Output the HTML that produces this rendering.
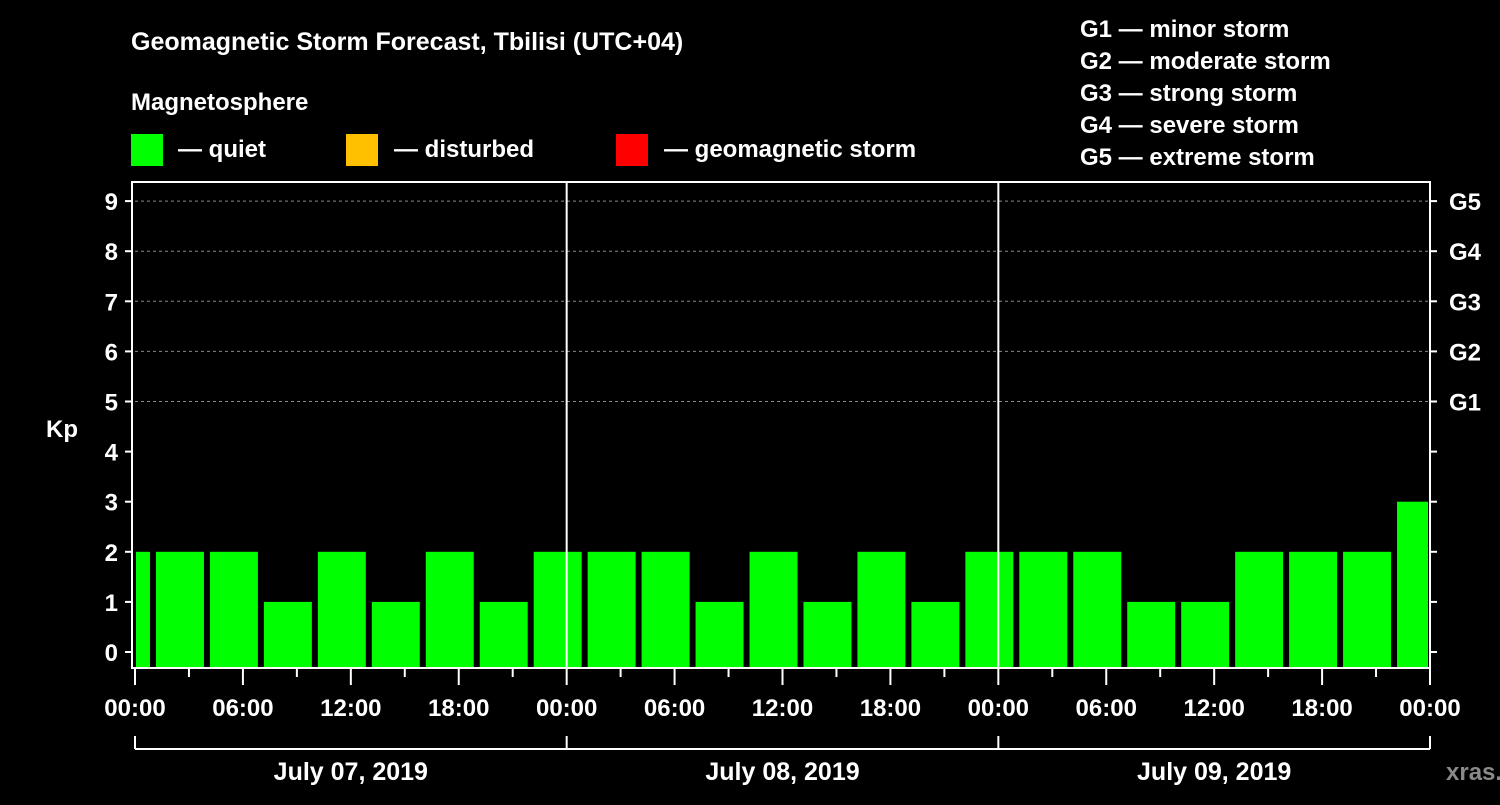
<!DOCTYPE html>
<html><head><meta charset="utf-8"><style>
body{margin:0;background:#000;}
svg text{font-family:"Liberation Sans",Arial,sans-serif;font-weight:bold;fill:#fff;}
</style></head><body>
<svg width="1500" height="800" viewBox="0 0 1500 800">
<rect width="1500" height="800" fill="#000"/>
<text x="131" y="50" font-size="25">Geomagnetic Storm Forecast, Tbilisi (UTC+04)</text>
<text x="131" y="110" font-size="24">Magnetosphere</text>
<g><rect x="131" y="134" width="32" height="32" fill="#00ff00"/><text x="178" y="157" font-size="24">— quiet</text></g>
<g><rect x="346" y="134" width="32" height="32" fill="#ffc000"/><text x="394" y="157" font-size="24">— disturbed</text></g>
<g><rect x="616" y="134" width="32" height="32" fill="#ff0000"/><text x="664" y="157" font-size="24">— geomagnetic storm</text></g>
<g font-size="24">
<text x="1080" y="37">G1 — minor storm</text>
<text x="1080" y="69">G2 — moderate storm</text>
<text x="1080" y="101">G3 — strong storm</text>
<text x="1080" y="133">G4 — severe storm</text>
<text x="1080" y="165">G5 — extreme storm</text>
</g>
<g id="plot"></g>
<text x="62" y="437" font-size="24" text-anchor="middle">Kp</text>
<text x="1446" y="780" font-size="24" fill="#888" style="fill:#8a8a8a">xras.ru</text>
</svg>
<script>
const values=[2,2,2,1,2,1,2,1,2,2,2,1,2,1,2,1,2,2,2,1,1,2,2,2,3];
const yTicks=[0,1,2,3,4,5,6,7,8,9];
const gLabels=["G1","G2","G3","G4","G5"];
const xLabels=["00:00","06:00","12:00","18:00","00:00","06:00","12:00","18:00","00:00","06:00","12:00","18:00","00:00"];
const dates=["July 07, 2019","July 08, 2019","July 09, 2019"];
const NS="http://www.w3.org/2000/svg";
const g=document.getElementById('plot');
const X0=135,X1=1430,HOURS=72;
const xs=h=>X0+(X1-X0)*h/HOURS;
const ys=v=>652-50.1*v;
const TOP=182,BOT=668;
function mk(t,a,p){const e=document.createElementNS(NS,t);for(const k in a)e.setAttribute(k,a[k]);(p||g).appendChild(e);return e;}
// grid
for(let v=5;v<=9;v++){const l=mk('line',{x1:X0,x2:X1,y1:ys(v),y2:ys(v),stroke:'#888','stroke-dasharray':'3,3','stroke-width':1});

}
// bars
values.forEach((v,i)=>{let h0=-2+3*i,h1=h0+3;let a=xs(Math.max(0,h0))+(h0<0?1:3),b=xs(Math.min(HOURS,h1))-(h1>HOURS?2:3);
const col=v>=5?'#ff0000':(v>=4?'#ffc000':'#00ff00');
const r=mk('rect',{x:a,y:ys(v),width:b-a,height:BOT-1-ys(v),fill:col});

});
// frame
mk('rect',{x:132,y:TOP,width:X1-132,height:BOT-TOP,fill:'none',stroke:'#fff','stroke-width':2});
[1,2].forEach(d=>{const l=mk('line',{x1:xs(24*d),x2:xs(24*d),y1:TOP,y2:BOT,stroke:'#fff','stroke-width':2});

});
// y ticks
yTicks.forEach(v=>{mk('line',{x1:125,x2:132,y1:ys(v),y2:ys(v),stroke:'#fff','stroke-width':2});
mk('line',{x1:X1,x2:X1+7,y1:ys(v),y2:ys(v),stroke:'#fff','stroke-width':2});
const t=mk('text',{x:118,y:ys(v)+9,'font-size':24,'text-anchor':'end'});t.textContent=v;

});
gLabels.forEach((s,i)=>{const t=mk('text',{x:1449,y:ys(5+i)+9,'font-size':24});t.textContent=s;

});
// x ticks
for(let h=0;h<=HOURS;h+=3){const major=h%6===0;mk('line',{x1:xs(h),x2:xs(h),y1:BOT,y2:major?685:677,stroke:'#fff','stroke-width':2});}
xLabels.forEach((s,i)=>{const t=mk('text',{x:xs(6*i),y:716,'font-size':24,'text-anchor':'middle'});t.textContent=s;

});
// date bracket
mk('line',{x1:X0,x2:X1,y1:749,y2:749,stroke:'#fff','stroke-width':2});
for(let d=0;d<=3;d++)mk('line',{x1:xs(24*d),x2:xs(24*d),y1:736,y2:749,stroke:'#fff','stroke-width':2});
dates.forEach((s,i)=>{const t=mk('text',{x:xs(24*i+12),y:780,'font-size':25,'text-anchor':'middle'});t.textContent=s;

});
</script>
</body></html>
